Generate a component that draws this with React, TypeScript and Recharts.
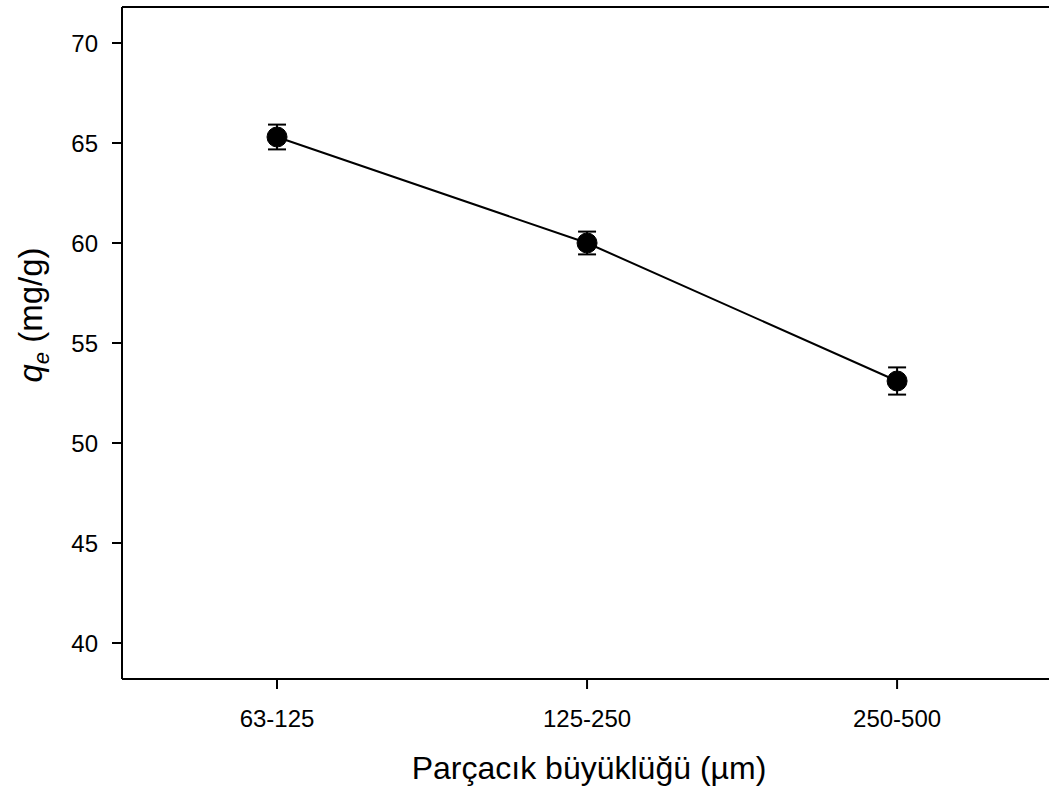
import React from "react";
import { LineChart, Line, XAxis, YAxis, ErrorBar, ReferenceLine } from "recharts";

const categories = ["63-125", "125-250", "250-500"];
const qeValues = [65.3, 60.0, 53.1];
const qeErrors = [0.62, 0.57, 0.68];
const yTicks = [40, 45, 50, 55, 60, 65, 70];

const data = categories.map((c, i) => ({ idx: i, name: c, qe: qeValues[i], err: qeErrors[i] }));

const FONT = "'Liberation Sans', Arial, sans-serif";

const Dot = (props: any) => {
  const { cx, cy } = props;
  if (cx == null || cy == null) return null;
  return <circle cx={cx} cy={cy} r={10} fill="#000" stroke="#000" />;
};

const XTitle = () => (
  <text x={589} y={779} textAnchor="middle" fontFamily={FONT} fontSize={32} fill="#000">
    Parçacık büyüklüğü (µm)
  </text>
);

const YTitle = () => (
  <text
    x={0}
    y={0}
    transform="translate(42, 315) rotate(-90)"
    textAnchor="middle"
    fontFamily={FONT}
    fontSize={33}
    fill="#000"
  >
    <tspan fontStyle="italic">q</tspan>
    <tspan fontStyle="italic" fontSize={22} dy={7}>e</tspan>
    <tspan dy={-7}> (mg/g)</tspan>
  </text>
);

export default function App() {
  return (
    <div style={{ position: "absolute", left: 0, top: 0, width: 1049, height: 790, background: "#fff" }}>
      <LineChart width={1049} height={790} data={data} margin={{ top: 7, right: 0, left: 0, bottom: 0 }}>
        <XAxis
          dataKey="idx"
          type="number"
          domain={[-0.5, 2.49]}
          ticks={[0, 1, 2]}
          tickFormatter={(v: number) => categories[v] ?? ""}
          height={111}
          tickSize={10}
          tickMargin={21}
          axisLine={{ stroke: "#000", strokeWidth: 2 }}
          tickLine={{ stroke: "#000", strokeWidth: 2 }}
          tick={{ fill: "#000", fontSize: 24, fontFamily: FONT }}
          label={<XTitle />}
        />
        <YAxis
          domain={[38.2, 71.8]}
          ticks={yTicks}
          width={122}
          tickSize={10}
          tickMargin={14}
          axisLine={{ stroke: "#000", strokeWidth: 2 }}
          tickLine={{ stroke: "#000", strokeWidth: 2 }}
          tick={{ fill: "#000", fontSize: 24, fontFamily: FONT }}
          label={<YTitle />}
        />
        <ReferenceLine y={71.8} stroke="#000" strokeWidth={2} ifOverflow="extendDomain" />
        <Line
          dataKey="qe"
          stroke="#000"
          strokeWidth={2}
          dot={<Dot />}
          activeDot={false}
          isAnimationActive={false}
        >
          <ErrorBar dataKey="err" direction="y" width={9} stroke="#000" strokeWidth={2} />
        </Line>
      </LineChart>
    </div>
  );
}
